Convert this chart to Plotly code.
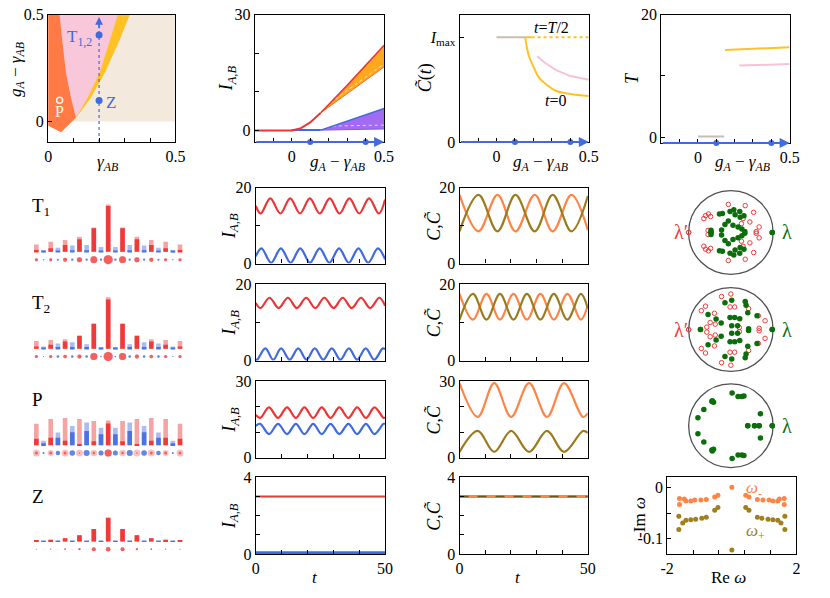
import plotly.graph_objects as go

W, H = 830, 598
FONT = "Liberation Serif"
RED = "#EE3535"
BLUE = "#3F6AE0"
ORANGE_C = "#FF8445"
OLIVE = "#9C7A1E"
GREEN = "#0B6E0B"
YEL = "#FFC125"
PINK = "#F8C8DA"
CORAL = "#FF7A45"
BEIGE = "#F3E9DD"
GRAY = "#C9BDB2"

# ---------------- data ----------------
beige_x = [0, 0.5, 0.5, 0]
beige_y = [0, 0, 0.5, 0.5]
coral_x = [0, 0.045, 0.055, 0.07, 0.09, 0.105, 0.109, 0.051, 0]
coral_y = [0.5, 0.5, 0.385, 0.23, 0.11, 0.034, 0.018, -0.05, -0.02]
pink_x = [0.109, 0.105, 0.09, 0.07, 0.055, 0.045, 0.273, 0.244, 0.203, 0.154, 0.109]
pink_y = [0.018, 0.034, 0.11, 0.23, 0.385, 0.5, 0.5, 0.385, 0.232, 0.11, 0.018]
yel_x = [0.109, 0.154, 0.203, 0.244, 0.273, 0.32, 0.282, 0.224, 0.167, 0.115]
yel_y = [0.018, 0.11, 0.232, 0.385, 0.5, 0.5, 0.385, 0.232, 0.11, 0.026]
path_x = [0.2, 0.2]
path_y = [-0.096, 0.46]
tz_x = [0.2, 0.2]
tz_y = [0.405, 0.099]
p_x = [0.045]
p_y = [0.1]

ig_red_x = [-0.2, 0.0, 0.05, 0.1, 0.157]
ig_red_y = [0, 0, 0.6, 2.1, 4.6]
ig_redhi_x = [0.157, 0.3, 0.5]
ig_redhi_y = [4.6, 11.7, 22.1]
ig_redlo_x = [0.157, 0.3, 0.5]
ig_redlo_y = [4.6, 9.6, 16.5]
ig_blue_x = [0.0, 0.157]
ig_blue_y = [0.1, 0.1]
ig_bluehi_x = [0.157, 0.5]
ig_bluehi_y = [0.1, 5.7]
ig_bluelo_x = [0.157, 0.5]
ig_bluelo_y = [0.1, 0.4]
path_pts = [0.1, 0.4]

c_gray_x = [0.0, 0.155]
c_gray_y = [1, 1]
c_half_x = [0.155, 0.19]
c_half_y = [1, 1]
c_halfdot_x = [0.19, 0.5]
c_halfdot_y = [1, 1]
c_t0_x = [0.155, 0.165, 0.177, 0.2, 0.23, 0.27, 0.32, 0.4, 0.5]
c_t0_y = [1.0, 0.9, 0.815, 0.72, 0.615, 0.55, 0.49, 0.46, 0.44]
c_pink_x = [0.22, 0.26, 0.32, 0.4, 0.5]
c_pink_y = [0.82, 0.76, 0.69, 0.63, 0.594]

T_gray_x = [0.0, 0.143]
T_gray_y = [0.1, 0.1]
T_yel_x = [0.148, 0.5]
T_yel_y = [14.24, 14.7]
T_pink_x = [0.225, 0.5]
T_pink_y = [11.7, 11.95]

t1_red_t = [0, 1.9, 5.6, 9.5, 13.3, 17.1, 20.9, 24.7, 28.6, 32.4, 36.2, 40.0, 43.8, 47.6, 50]
t1_red_v = [15.2, 13.2, 17.2, 13.2, 17.2, 13.2, 17.2, 13.2, 17.2, 13.2, 17.2, 13.2, 17.2, 13.2, 16.9]
t1_blue_t = [0, 2.2, 5.95, 9.7, 13.45, 17.2, 20.95, 24.7, 28.45, 32.2, 35.95, 39.7, 43.45, 47.2, 50]
t1_blue_v = [1.9, 4.0, 0.2, 4.0, 0.2, 4.0, 0.2, 4.0, 0.2, 4.0, 0.2, 4.0, 0.2, 4.0, 1.1]
t1_c_t = [0, 7.4, 14.8, 21.8, 29.3, 36.3, 43.6, 50]
t1_c_or = [18.1, 8.5, 18.1, 8.5, 18.1, 8.5, 18.1, 8.8]
t1_c_ol = [8.5, 18.1, 8.5, 18.1, 8.5, 18.1, 8.5, 17.8]

t2_red_t = [0, 1.8, 5.3, 8.85, 12.4, 15.9, 19.5, 23.0, 26.5, 30.1, 33.6, 37.1, 40.7, 44.2, 47.8, 50]
t2_red_v = [15.05, 13.7, 16.4, 13.7, 16.4, 13.7, 16.4, 13.7, 16.4, 13.7, 16.4, 13.7, 16.4, 13.7, 16.4, 14.3]
t2_blue_t = [0, 0.5, 3.7, 6.75, 9.8, 13.1, 16.4, 19.6, 22.8, 26.1, 29.4, 32.7, 36.0, 39.2, 42.5, 45.8, 49.1, 50]
t2_blue_v = [0.4, 0.25, 3.2, 0.25, 3.2, 0.25, 3.2, 0.25, 3.2, 0.25, 3.2, 0.25, 3.2, 0.25, 3.2, 0.25, 3.2, 3.0]
t2_c_t = [0, 5.25, 10.5, 15.75, 21.0, 26.25, 31.5, 36.75, 42.0, 47.25, 50]
t2_c_or = [17.4, 10.7, 17.4, 10.7, 17.4, 10.7, 17.4, 10.7, 17.4, 10.7, 14.5]
t2_c_ol = [10.7, 17.4, 10.7, 17.4, 10.7, 17.4, 10.7, 17.4, 10.7, 17.4, 13.6]

p_red_t = [0, 1.7, 5.1, 8.6, 12.1, 15.5, 18.8, 22.2, 25.5, 28.9, 32.3, 35.8, 39.2, 42.6, 45.9, 49.4, 50]
p_red_v = [16.8, 15.6, 19.7, 15.6, 19.7, 15.6, 19.7, 15.6, 19.7, 15.6, 19.7, 15.6, 19.7, 15.6, 19.7, 15.6, 15.8]
p_blue_t = [0, 1.7, 5.1, 8.6, 12.1, 15.5, 18.8, 22.2, 25.5, 28.9, 32.3, 35.8, 39.2, 42.6, 45.9, 49.4, 50]
p_blue_v = [12.5, 13.3, 9.3, 13.3, 9.3, 13.3, 9.3, 13.3, 9.3, 13.3, 9.3, 13.3, 9.3, 13.3, 9.3, 13.3, 13.2]
p_c_t = [0, 7.1, 13.5, 20.1, 27.1, 34.1, 40.7, 48.1, 50]
p_c_or = [29.2, 16.0, 29.2, 16.0, 29.2, 16.0, 29.2, 16.0, 17.5]
p_c_ol = [2.3, 10.5, 2.3, 10.5, 2.3, 10.5, 2.3, 10.5, 9.8]

z_t = [0, 50]
z_red = [3.0, 3.0]
z_blue = [0.07, 0.07]
z_c = [3.0, 3.0]

sites = list(range(21))
t1_light = [23, 5, 31, 13, 37, 20, 47, 21, 75, 15, 146, 15, 75, 21, 47, 20, 37, 13, 31, 5, 23]
t1_dark = [6, 2, 11, 3, 21, 5, 39, 5, 73, 3, 142, 3, 73, 5, 39, 5, 21, 3, 11, 2, 6]
t1_halo = [3.5, 1.3, 3.5, 2, 4.5, 2.3, 5.5, 2.3, 7.3, 2.3, 9.5, 2.3, 7.3, 2.3, 5.5, 2.3, 4.5, 2, 3.5, 1.3, 3.5]
t1_core = [3, 1.3, 3, 2, 4, 2.3, 5, 2.3, 6.7, 2.3, 9, 2.3, 6.7, 2.3, 5, 2.3, 4, 2, 3, 1.3, 3]
t2_light = [24, 7, 27, 16, 29, 20, 40, 14, 77, 5, 159, 5, 77, 14, 40, 20, 29, 16, 27, 7, 24]
t2_dark = [7, 2, 12, 5, 22, 5, 40, 5, 77, 2, 152, 2, 77, 5, 40, 5, 22, 5, 12, 2, 7]
t2_halo = [3.5, 1.2, 3.5, 2.5, 4, 2.5, 4.5, 2.5, 7.5, 1.5, 9.5, 1.5, 7.5, 2.5, 4.5, 2.5, 4, 2.5, 3.5, 1.2, 3.5]
t2_core = [3, 1.2, 3, 2.5, 3.5, 2.5, 4, 2.5, 7, 1.5, 9, 1.5, 7, 2.5, 4, 2.5, 3.5, 2.5, 3, 1.2, 3]
p_light = [66, 14, 81, 39, 84, 59, 81, 70, 75, 54, 76, 54, 75, 70, 81, 59, 84, 39, 81, 14, 66]
p_dark = [20, 6, 23, 23, 14, 40, 2, 44, 12, 34, 67, 34, 12, 44, 2, 40, 14, 23, 23, 6, 20]
p_halo = [7, 2, 6, 4.5, 7, 5.5, 7, 6, 6.5, 5, 7.5, 5, 6.5, 6, 7, 5.5, 7, 4.5, 6, 2, 7]
p_core = [3, 2, 3, 4.5, 3, 5.5, 1.5, 6, 2.5, 5, 7, 5, 2.5, 6, 1.5, 5.5, 3, 4.5, 3, 2, 3]
z_light = [3, 1, 5, 1, 10, 1, 19, 1.5, 38, 1, 73, 1, 38, 1.5, 19, 1, 10, 1, 5, 1, 3]
z_dark = [3, 0.5, 5, 0.5, 10, 0.5, 19, 0.5, 38, 0.5, 73, 0.5, 38, 0.5, 19, 0.5, 10, 0.5, 5, 0.5, 3]
z_halo = [1, 0.5, 1.3, 0.5, 1.7, 0.5, 2.3, 0.5, 4, 0.5, 4.5, 0.5, 4, 0.5, 2.3, 0.5, 1.7, 0.5, 1.3, 0.5, 1]
z_core = z_halo

# eigenvalues lambda (upper half plane; conjugates added below)
t1_g_re = [0.98, -0.47, -0.47, -0.27, -0.20, -0.02, 0.07, 0.21, 0.31, -0.14, -0.06, 0.05, 0.17, 0.26, 0.33, -0.22, 0.10, 0.22]
t1_g_im = [0.0, 0.05, 0.0, 0.44, 0.45, 0.50, 0.54, 0.50, 0.40, 0.19, 0.27, 0.17, 0.13, 0.08, 0.02, 0.06, 0.42, 0.36]
t1_r_re = [-1.0, -0.06, 0.34, 0.54, 0.67, 0.60, -0.60, -0.53, -0.64, -0.54, 0.25, 0.29, 0.45, -0.48]
t1_r_im = [0.0, 0.67, 0.64, 0.48, 0.13, 0.02, 0.40, 0.44, 0.33, 0.05, 0.21, 0.33, 0.25, 0.38]
t2_g_re = [0.98, -0.72, 0.42, -0.14, 0.02, 0.34, 0.36, -0.54, -0.23, -0.02, 0.09, 0.21, 0.40, 0.62, 0.02, 0.16, -0.35]
t2_g_im = [0.0, 0.0, 0.02, 0.64, 0.70, 0.67, 0.58, 0.36, 0.16, 0.29, 0.29, 0.26, 0.40, 0.33, 0.09, 0.09, 0.25]
t2_r_re = [-1.0, -0.22, 0.0, -0.60, -0.39, -0.49, -0.37, -0.02, 0.09, 0.42, 0.65, 0.81, 0.67, -0.57, -0.70, 0.20]
t2_r_im = [0.0, 0.79, 0.85, 0.56, 0.39, 0.17, 0.13, 0.54, 0.54, 0.50, 0.33, 0.21, 0.03, 0.06, 0.45, 0.05]
p_g_re = [0.98, 0.40, 0.56, 0.67, 0.03, 0.17, 0.26, 0.31, -0.45, -0.41, -0.44, -0.64, -0.78, 0.70]
p_g_im = [0.0, 0.0, 0.0, 0.0, 0.78, 0.70, 0.70, 0.71, 0.58, 0.56, 0.60, 0.39, 0.19, 0.29]

wm_re = [-1.62, -1.62, -1.47, -1.42, -1.27, -1.15, -0.96, -0.79, -0.53, -0.43, 0.0, 0.43, 0.53, 0.79, 0.96, 1.15, 1.27, 1.42, 1.47, 1.62, 1.62]
wm_im = [-0.021, -0.033, -0.022, -0.026, -0.026, -0.024, -0.024, -0.023, -0.018, -0.015, 0.001, -0.015, -0.018, -0.023, -0.024, -0.024, -0.026, -0.026, -0.022, -0.021, -0.033]
wp_re = [-1.64, -1.64, -1.52, -1.42, -1.27, -1.12, -0.93, -0.79, -0.53, -0.43, 0.0, 0.43, 0.53, 0.79, 0.93, 1.12, 1.27, 1.42, 1.52, 1.64, 1.64]
wp_im = [-0.056, -0.082, -0.069, -0.064, -0.063, -0.062, -0.060, -0.058, -0.044, -0.039, -0.122, -0.039, -0.044, -0.058, -0.060, -0.062, -0.063, -0.064, -0.069, -0.056, -0.082]

# ---------------- figure helpers ----------------
fig = go.Figure()
lay = {}
ann = []
shp = []
count = [0]


def add_axes(l, r, t, b, xr, yr, xtv=None, xtt=None, xmin=None,
             ytv=None, ytt=None, ymin=None, frame=True):
    count[0] += 1
    n = count[0]
    s = '' if n == 1 else str(n)
    base = dict(showgrid=False, zeroline=False, fixedrange=True, autorange=False,
                tickfont=dict(family=FONT, size=16, color='black'))
    if frame:
        base.update(showline=True, mirror=True, linecolor='black', linewidth=1.2,
                    ticks='inside', ticklen=4, tickwidth=1, tickcolor='black')
    else:
        base.update(showline=False, ticks='', showticklabels=False)
    xa = dict(base, domain=[l / W, r / W], range=xr, anchor='y' + s)
    ya = dict(base, domain=[1 - b / H, 1 - t / H], range=yr, anchor='x' + s)
    if frame:
        for ax, tv, tt, mn in ((xa, xtv, xtt, xmin), (ya, ytv, ytt, ymin)):
            if tv is None:
                ax.update(ticks='', showticklabels=False)
            else:
                ax.update(tickmode='array', tickvals=tv, ticktext=tt)
            if mn:
                ax['minor'] = dict(tickmode='array', tickvals=mn, ticks='inside', ticklen=4,
                                   tickwidth=1, tickcolor='black', showgrid=False)
    lay['xaxis' + s] = xa
    lay['yaxis' + s] = ya
    return 'x' + s, 'y' + s


def text(px, py, s, size=17, color='black', angle=0, xanchor='center'):
    ann.append(dict(x=px / W, y=1 - py / H, xref='paper', yref='paper', text=s,
                    showarrow=False, textangle=angle, xanchor=xanchor, yanchor='middle',
                    font=dict(family=FONT, size=size, color=color)))


def line(xa, ya, x, y, color, width=2, dash=None, spline=False):
    fig.add_trace(go.Scatter(x=x, y=y, xaxis=xa, yaxis=ya, mode='lines',
                             line=dict(color=color, width=width, dash=dash,
                                       shape='spline' if spline else 'linear', smoothing=1.0),
                             hoverinfo='skip', showlegend=False))


def poly(xa, ya, x, y, color):
    fig.add_trace(go.Scatter(x=x, y=y, xaxis=xa, yaxis=ya, mode='lines', fill='toself',
                             fillcolor=color, line=dict(width=0, color=color),
                             hoverinfo='skip', showlegend=False))


def pts(xa, ya, x, y, color, size=6, symbol='circle', lw=0, lc=None, clip=True):
    fig.add_trace(go.Scatter(x=x, y=y, xaxis=xa, yaxis=ya, mode='markers', cliponaxis=clip,
                             marker=dict(color=color, size=size, symbol=symbol,
                                         line=dict(width=lw, color=lc or color)),
                             hoverinfo='skip', showlegend=False))


def arrow(xa, ya, x0, x1, y, width=2):
    ann.append(dict(x=x1, y=y, ax=x0, ay=y, xref=xa, yref=ya, axref=xa, ayref=ya, text='',
                    showarrow=True, arrowhead=2, arrowsize=1, arrowwidth=width,
                    arrowcolor=BLUE))


# ---------------- row 1 ----------------
gmin = [-0.1, 0.1, 0.2, 0.3, 0.4]
GT = '<i>g</i><sub><i>A</i></sub> − <i>γ</i><sub><i>AB</i></sub>'

xa, ya = add_axes(42, 172, 7, 138, [0, 0.5], [-0.096, 0.5],
                  [0, 0.5], ['0', '0.5'], [0.1, 0.2, 0.3, 0.4],
                  [0, 0.5], ['0', '0.5'])
poly(xa, ya, beige_x, beige_y, BEIGE)
poly(xa, ya, pink_x, pink_y, PINK)
poly(xa, ya, yel_x, yel_y, YEL)
poly(xa, ya, coral_x, coral_y, CORAL)
line(xa, ya, path_x, path_y, BLUE, width=1.2, dash='dot')
ann.append(dict(x=0.2, y=0.49, ax=0.2, ay=0.43, xref=xa, yref=ya, axref=xa, ayref=ya,
                text='', showarrow=True, arrowhead=2, arrowsize=1.1, arrowwidth=1.4,
                arrowcolor=BLUE))
pts(xa, ya, tz_x, tz_y, BLUE, size=7)
pts(xa, ya, p_x, p_y, '#FFF6EA', size=6, symbol='circle-open', lw=1.5)
text(74, 31, 'T<sub>1,2</sub>', size=17, color=BLUE)
text(106, 97, 'Z', size=17, color=BLUE)
text(54, 107, 'P', size=16, color='#FFF6EA')
text(103, 160, '<i>γ</i><sub><i>AB</i></sub>', size=17)
text(10, 63, GT, size=17, angle=-90)

xa, ya = add_axes(253, 385, 7, 138, [-0.2, 0.5], [-3, 30], [0, 0.5], ['0', '0.5'], gmin,
                  [0, 30], ['0', '30'], [10, 20])
poly(xa, ya, ig_redhi_x + ig_redlo_x[::-1], ig_redhi_y + ig_redlo_y[::-1], '#FFA81E')
poly(xa, ya, ig_bluehi_x + ig_bluelo_x[::-1], ig_bluehi_y + ig_bluelo_y[::-1], '#A36AF2')
line(xa, ya, ig_redlo_x, [v + 0.8 for v in ig_redlo_y], 'rgba(255,255,255,0.7)', width=1, dash='dot')
line(xa, ya, ig_bluelo_x, [v + 1.0 for v in ig_bluelo_y], 'rgba(255,255,255,0.7)', width=1, dash='dot')
line(xa, ya, ig_redlo_x, ig_redlo_y, '#F26A2A', width=1)
line(xa, ya, ig_bluelo_x, ig_bluelo_y, '#7E5BEA', width=1)
line(xa, ya, ig_redhi_x, ig_redhi_y, RED, width=1.5)
line(xa, ya, ig_bluehi_x, ig_bluehi_y, BLUE, width=1.5)
line(xa, ya, ig_blue_x, ig_blue_y, BLUE, width=2)
line(xa, ya, ig_red_x, ig_red_y, RED, width=2)
arrow(xa, ya, -0.2, 0.5, -3)
pts(xa, ya, path_pts, [-3, -3], BLUE, size=6, clip=False)
text(226, 72, '<i>I</i><sub><i>A,B</i></sub>', size=18, angle=-90)
text(337, 160, GT, size=17)

xa, ya = add_axes(462, 594, 7, 138, [-0.2, 0.5], [0, 1.215], [0, 0.5], ['0', '0.5'], gmin,
                  [0, 1], ['0', '<i>I</i><sub>max</sub>'])
line(xa, ya, c_gray_x, c_gray_y, GRAY, width=2)
line(xa, ya, c_pink_x, c_pink_y, '#F6C3D6', width=2)
line(xa, ya, c_halfdot_x, c_halfdot_y, YEL, width=2, dash='dot')
line(xa, ya, c_half_x, c_half_y, YEL, width=2)
line(xa, ya, c_t0_x, c_t0_y, YEL, width=2, spline=True)
arrow(xa, ya, -0.2, 0.5, 0)
pts(xa, ya, path_pts, [0, 0], BLUE, size=6, clip=False)
ann.append(dict(x=0.30, y=1.09, xref=xa, yref=ya, text='<i>t</i>=<i>T</i>/2', showarrow=False,
                font=dict(family=FONT, size=16, color='black')))
ann.append(dict(x=0.32, y=0.40, xref=xa, yref=ya, text='<i>t</i>=0', showarrow=False,
                font=dict(family=FONT, size=16, color='black')))
text(428, 72, '<i>C̃</i>(<i>t</i>)', size=18, angle=-90)
text(545, 160, GT, size=17)

xa, ya = add_axes(668, 799, 7, 139, [-0.2, 0.5], [-0.96, 20], [0, 0.5], ['0', '0.5'], gmin,
                  [0, 20], ['0', '20'], [10])
line(xa, ya, T_gray_x, T_gray_y, GRAY, width=2)
line(xa, ya, T_yel_x, T_yel_y, YEL, width=2)
line(xa, ya, T_pink_x, T_pink_y, '#F6C3D6', width=2)
arrow(xa, ya, -0.2, 0.5, -0.96)
pts(xa, ya, path_pts, [-0.96, -0.96], BLUE, size=6, clip=False)
text(638, 72, '<i>T</i>', size=18, angle=-90)
text(751, 160, GT, size=17)

# ---------------- rows 2-5 ----------------
rows = [
    (185, 263, 20, [0, 20], ['0', '20'], [10],
     (t1_red_t, t1_red_v, t1_blue_t, t1_blue_v), (t1_c_t, t1_c_or, t1_c_ol)),
    (284, 363, 20, [0, 20], ['0', '20'], [10],
     (t2_red_t, t2_red_v, t2_blue_t, t2_blue_v), (t2_c_t, t2_c_or, t2_c_ol)),
    (384, 463, 30, [0, 30], ['0', '30'], [10, 20],
     (p_red_t, p_red_v, p_blue_t, p_blue_v), (p_c_t, p_c_or, p_c_ol)),
    (483, 562, 4, [0, 4], ['0', '4'], [1, 2, 3], None, None),
]
for k, (top, bot, ymax, ytv, ytt, ymn, idata, cdata) in enumerate(rows):
    last = (k == 3)
    for (l, r, ttl, dat, isI) in ((254, 386, '<i>I</i><sub><i>A,B</i></sub>', idata, True),
                                  (462, 593, '<i>C</i>,<i>C̃</i>', cdata, False)):
        if last:
            xa, ya = add_axes(l, r, top, bot, [0, 50], [0, ymax], [0, 50], ['0', '50'],
                              [10, 20, 30, 40], ytv, ytt, ymn)
        else:
            xa, ya = add_axes(l, r, top, bot, [0, 50], [0, ymax], [0, 10, 20, 30, 40, 50],
                              None, None, ytv, ytt, ymn)
            lay['xaxis' + xa[1:]].update(ticks='inside', showticklabels=False)
        if dat:
            if isI:
                line(xa, ya, dat[0], dat[1], RED, width=2.2, spline=True)
                line(xa, ya, dat[2], dat[3], BLUE, width=2.2, spline=True)
            else:
                line(xa, ya, dat[0], dat[1], ORANGE_C, width=2.2, spline=True)
                line(xa, ya, dat[0], dat[2], OLIVE, width=2.2, spline=True)
        else:
            if isI:
                line(xa, ya, z_t, z_blue, BLUE, width=3)
                line(xa, ya, z_t, z_red, RED, width=2)
            else:
                line(xa, ya, z_t, z_c, ORANGE_C, width=3)
                line(xa, ya, z_t, z_c, '#6B5520', width=1.5, dash='dash')
        text(l - 26, (top + bot) / 2, ttl, size=18, angle=-90)
text(314, 586, '<i>t</i>', size=17)
text(522, 586, '<i>t</i>', size=17)

# ---------------- site profiles ----------------
light_cols = ['#F5A3A3' if i % 2 == 0 else '#A9BDF2' for i in sites]
dark_cols = ['#F03A3A' if i % 2 == 0 else '#4D73E2' for i in sites]
halo_cols = ['#F7A8A8' if i % 2 == 0 else '#9FB5F0' for i in sites]
core_cols = ['#F03434' if i % 2 == 0 else '#3F6AE0' for i in sites]
profiles = [(251, t1_light, t1_dark, t1_halo, t1_core, 'T<sub>1</sub>', 205),
            (350.7, t2_light, t2_dark, t2_halo, t2_core, 'T<sub>2</sub>', 305),
            (450, p_light, p_dark, p_halo, p_core, 'P', 403),
            (549, z_light, z_dark, z_halo, z_core, 'Z', 503)]
for base, lt, dk, hl, cr, lab, ly in profiles:
    xa, ya = add_axes(26.3, 180.3, base - 60, base + 15, [-0.5, 20.5], [-45, 180], frame=False)
    fig.add_trace(go.Bar(x=sites, y=lt, xaxis=xa, yaxis=ya, width=0.64,
                         marker=dict(color=light_cols, line=dict(width=0)),
                         hoverinfo='skip', showlegend=False))
    fig.add_trace(go.Bar(x=sites, y=dk, xaxis=xa, yaxis=ya, width=0.64,
                         marker=dict(color=dark_cols, line=dict(width=0)),
                         hoverinfo='skip', showlegend=False))
    pts(xa, ya, sites, [-24] * 21, halo_cols, size=hl)
    pts(xa, ya, sites, [-24] * 21, core_cols, size=cr)
    text(23, ly, lab, size=19, xanchor='left')

# ---------------- eigenvalue circles ----------------
circ = [(231, t1_g_re, t1_g_im, t1_r_re, t1_r_im),
        (331, t2_g_re, t2_g_im, t2_r_re, t2_r_im),
        (430, p_g_re, p_g_im, None, None)]
for cy, gre, gim, rre, rim in circ:
    xa, ya = add_axes(689, 789, cy - 50, cy + 50, [-1.16, 1.16], [-1.16, 1.16], frame=False)
    shp.append(dict(type='circle', xref=xa, yref=ya, x0=-1, y0=-1, x1=1, y1=1,
                    line=dict(color='#505050', width=1.3), layer='below'))
    if rre:
        pts(xa, ya, rre + rre, rim + [-v for v in rim], '#F03A3A', size=4.5,
            symbol='circle-open', lw=1.0)
        text(688, cy, 'λ′', size=20, color='#F03A3A')
    pts(xa, ya, gre + gre, gim + [-v for v in gim], GREEN, size=5.5)
    text(796, cy, 'λ', size=20, color=GREEN)

# ---------------- omega spectrum ----------------
xa, ya = add_axes(674, 806, 483, 562, [-2, 2], [-0.130, 0.0205],
                  [-2, 2], ['-2', '2'], [-1.2, -0.4, 0.4, 1.2],
                  [-0.1, 0], ['-0.1', '0'], [-0.05])
pts(xa, ya, wp_re, wp_im, '#A0801E', size=5)
pts(xa, ya, wm_re, wm_im, '#FF8445', size=5)
ann.append(dict(x=0.68, y=-0.002, xref=xa, yref=ya, text='<i>ω</i><sub>-</sub>', showarrow=False,
                font=dict(family=FONT, size=17, color='#FF8445')))
ann.append(dict(x=0.72, y=-0.087, xref=xa, yref=ya, text='<i>ω</i><sub>+</sub>', showarrow=False,
                font=dict(family=FONT, size=17, color='#A0801E')))
text(737, 586, 'Re <i>ω</i>', size=17)
text(645, 524, '-Im <i>ω</i>', size=17, angle=-90)

lay.update(width=W, height=H, margin=dict(l=0, r=0, t=0, b=0), paper_bgcolor='white',
           plot_bgcolor='white', barmode='overlay', showlegend=False,
           annotations=ann, shapes=shp, font=dict(family=FONT))
fig.update_layout(**lay)
fig.write_html("out.html", config={'displayModeBar': False},
               post_script=("document.documentElement.style.margin='0px';"
                            "document.body.style.margin='0px';"
                            "document.body.style.overflow='hidden';"
                            "document.documentElement.style.overflow='hidden';"))
